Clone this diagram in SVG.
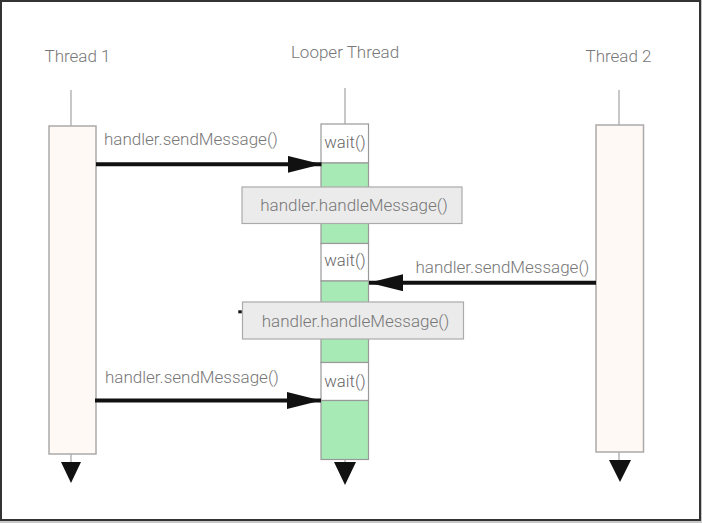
<svg xmlns="http://www.w3.org/2000/svg" width="702" height="523" viewBox="0 0 702 523">
<defs>
<style>
.lbl{font-family:Roboto,"Liberation Sans",sans-serif;font-weight:300;fill:#777;font-size:17px}
.wt{font-family:Roboto,"Liberation Sans",sans-serif;font-weight:300;fill:#666;font-size:16.7px}
.life{stroke:#aaa;stroke-width:1.3;fill:none}
.thr{fill:#fff9f6;stroke:#aaa;stroke-width:1.5}
.green{fill:#a8eab5;stroke:#999;stroke-width:1.2}
.wait{fill:#fff;stroke:#999;stroke-width:1.2}
.hm{fill:#ebebeb;stroke:#aaa;stroke-width:1.2}
.msg{stroke:#111;stroke-width:4;fill:none}
.end{fill:#111}
</style>
<marker id="ah" markerUnits="userSpaceOnUse" markerWidth="36" markerHeight="18" refX="34" refY="8.5" orient="auto">
<path d="M0,0 L34,8.5 L0,17 Z" fill="#111"/>
</marker>
</defs>
<rect x="0" y="0" width="702" height="523" fill="#c8c8c8"/>
<rect x="1" y="1" width="699" height="519" fill="#fff" stroke="#333" stroke-width="2"/>

<g id="thread1">
<text class="lbl" x="77.5" y="62" text-anchor="middle">Thread 1</text>
<line class="life" x1="71" y1="90" x2="71" y2="126"/>
<rect class="thr" x="49" y="126" width="47" height="328"/>
<line class="life" x1="71" y1="454" x2="71" y2="462"/>
<path class="end" d="M61,462 L81,462 L71,483 Z"/>
</g>

<g id="looper">
<text class="lbl" x="345" y="58" text-anchor="middle">Looper Thread</text>
<line class="life" x1="345" y1="88" x2="345" y2="124"/>
<rect class="wait" x="321" y="124" width="47.5" height="39"/>
<text class="wt" x="345" y="148" text-anchor="middle">wait()</text>
<rect class="green" x="321" y="163" width="47.5" height="80.5"/>
<rect class="wait" x="321" y="243.5" width="47.5" height="37.5"/>
<text class="wt" x="345" y="266" text-anchor="middle">wait()</text>
<rect class="green" x="321" y="281" width="47.5" height="81.5"/>
<rect class="wait" x="321" y="362.5" width="47.5" height="38"/>
<text class="wt" x="345" y="386.5" text-anchor="middle">wait()</text>
<rect class="green" x="321" y="400.5" width="47.5" height="59"/>
<line class="life" x1="345" y1="459.5" x2="345" y2="462"/>
<path class="end" d="M334,462 L356,462 L345,485 Z"/>
</g>

<g id="thread2">
<text class="lbl" x="618.5" y="62" text-anchor="middle">Thread 2</text>
<line class="life" x1="619" y1="90" x2="619" y2="125"/>
<rect class="thr" x="596" y="125" width="47.5" height="327"/>
<line class="life" x1="619" y1="452" x2="619" y2="460"/>
<path class="end" d="M609,460 L631,460 L620,482 Z"/>
</g>

<g id="handle1">
<rect class="hm" x="242" y="187" width="220" height="36.5"/>
<text class="lbl" x="354" y="211" text-anchor="middle">handler.handleMessage()</text>
</g>

<g id="handle2">
<rect x="238.3" y="310.3" width="3.5" height="3" fill="#111"/>
<rect class="hm" x="242.5" y="302" width="221" height="37"/>
<text class="lbl" x="355.5" y="327" text-anchor="middle">handler.handleMessage()</text>
</g>

<g id="connectors">
<line class="msg" x1="96" y1="164.3" x2="321.5" y2="164.3" marker-end="url(#ah)"/>
<text class="lbl" x="104" y="145">handler.sendMessage()</text>
<line class="msg" x1="596" y1="282.7" x2="369" y2="282.7" marker-end="url(#ah)"/>
<text class="lbl" x="415.5" y="272.5">handler.sendMessage()</text>
<line class="msg" x1="95" y1="400.5" x2="321" y2="400.5" marker-end="url(#ah)"/>
<text class="lbl" x="105" y="383">handler.sendMessage()</text>
</g>
</svg>
